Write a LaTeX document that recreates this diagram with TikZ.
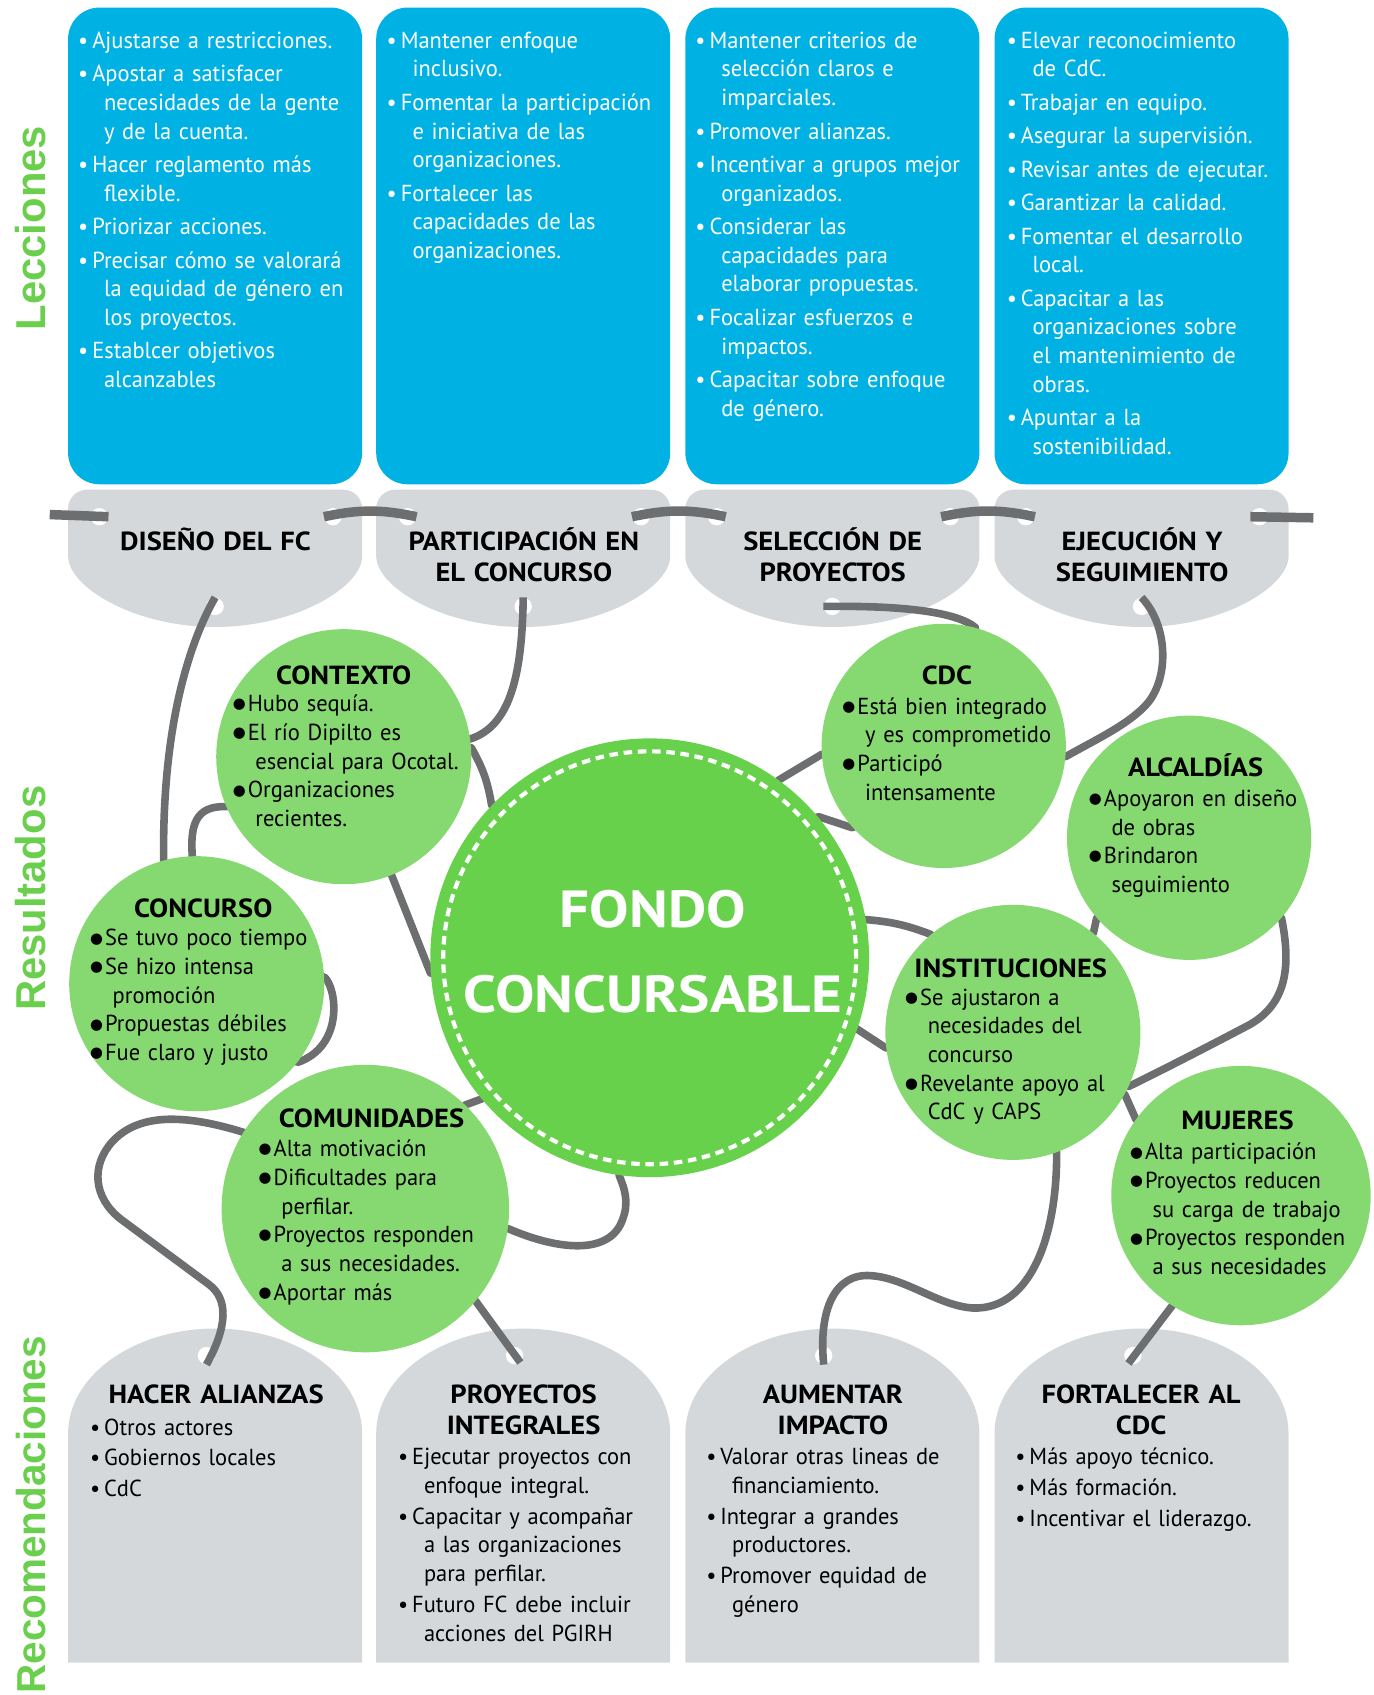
\documentclass[tikz,border=0pt]{standalone}
\usepackage{fontspec}
\setmainfont{PT Sans}[FakeStretch=0.97]
\newfontfamily\headfont{PT Sans}[FakeStretch=1.09]
\newfontfamily\fondofont{PT Sans}[FakeStretch=1.13]
\newfontfamily\sidefont{Liberation Sans}
\newfontfamily\dotfont{DejaVu Sans}
\usetikzlibrary{calc}

\definecolor{boxblue}{HTML}{00B2E3}
\definecolor{tabgray}{HTML}{D5D8DB}
\definecolor{leafgreen}{HTML}{86D870}
\definecolor{fondogreen}{HTML}{68D14B}
\definecolor{sidegreen}{HTML}{6BCF4E}
\definecolor{wiregray}{HTML}{6D6E70}

\pgfdeclarelayer{back}
\pgfdeclarelayer{wires}
\pgfsetlayers{back,wires,main}

\newcommand{\bul}{\makebox[7.4pt][l]{\textbullet}}
\newcommand{\ind}{\hspace*{13.6pt}}
\newcommand{\cbul}{\makebox[7.9pt][l]{\raisebox{1.5pt}{\dotfont\fontsize{7.8}{7.8}\selectfont ●}}}
\newcommand{\cind}{\hspace*{11.9pt}}

\begin{document}
\begin{tikzpicture}[x=0.02cm, y=-0.02cm]

  \tikzset{wire/.style={draw=wiregray, line width=4pt, line join=round}}
  \tikzset{chain/.style={wire, line width=5pt}}
  \tikzset{hole/.style={circle, fill=white, minimum size=0.32cm, inner sep=0pt}}
  \tikzset{leaf/.style={circle, fill=leafgreen, inner sep=0pt}}
  \tikzset{body/.style={anchor=base west, text width=5.2cm, align=left, inner sep=0pt, font=\fontsize{12.2}{15.1}\selectfont}}
  \tikzset{lesson/.style={body, text=white}}
  \tikzset{head/.style={anchor=base, text width=5cm, align=center, inner sep=0pt, font=\headfont\bfseries\fontsize{13.8}{16.6}\selectfont}}
  \tikzset{side/.style={rotate=90, inner sep=0pt, text=sidegreen, font=\sidefont\bfseries\fontsize{22}{26}\selectfont}}

  \useasboundingbox (0,0) rectangle (1271,1568);

  % boxes, tabs and holes
  \begin{pgfonlayer}{back}
    \foreach \x/\n in {63/1, 348/2, 634/3, 920/4} {
      \fill[boxblue, rounded corners=0.58cm] (\x,7) rectangle ++(272,441);
      \fill[tabgray, rounded corners=0.35cm] (\x+272,497)
        arc[start angle=0, end angle=180, x radius=136, y radius=83]
        -- (\x,453) -- (\x+272,453) -- cycle;
      \fill[tabgray] (\x,1538) -- (\x,1326)
        arc[start angle=180, end angle=360, x radius=136, y radius=97]
        -- (\x+272,1538) -- cycle;
      \node[hole] (t\n-l) at (\x+29,478) {};
      \node[hole] (t\n-r) at (\x+245,478) {};
      \node[hole] (t\n-b) at (\x+136,561) {};
      \node[hole] (b\n-h) at (\x+128,1254) {};
    }
  \end{pgfonlayer}
  \coordinate (chainL) at (46,476);
  \coordinate (chainR) at (1215,479);

  % results
  \node[circle, fill=fondogreen, minimum size=8.12cm, inner sep=0pt] (fondo) at (601,886) {};
  \draw[white, line width=2.2pt, dash pattern=on 4.5pt off 3pt] (fondo.center) circle[radius=3.82cm];
  \node[leaf, minimum size=4.72cm] (contexto) at (318,700) {};
  \node[leaf, minimum size=4.52cm] (cdc) at (873,690) {};
  \node[leaf, minimum size=4.52cm] (alcaldias) at (1100,775) {};
  \node[leaf, minimum size=4.72cm] (concurso) at (182,910) {};
  \node[leaf, minimum size=4.72cm] (instituciones) at (937,955) {};
  \node[leaf, minimum size=5.32cm] (comunidades) at (338,1118) {};
  \node[leaf, minimum size=4.80cm] (mujeres) at (1148,1106) {};

  % strings
  \begin{pgfonlayer}{wires}
    \draw[chain] (chainL) -- (t1-l.east);
    \draw[chain] (t1-r.west) to[bend left=12] (t2-l.east);
    \draw[chain] (t2-r.west) to[bend left=12] (t3-l.east);
    \draw[chain] (t3-r.west) to[bend left=12] (t4-l.east);
    \draw[chain] (t4-r.west) -- (chainR);

    \draw[wire] (t1-b.north) .. controls (172,600) and (150,680) .. (concurso.105) -- (concurso.center);
    \draw[wire] (t2-b.north) .. controls (483,630) and (470,672) .. (contexto.8) -- (contexto.center);
    \draw[wire] (t3-b.west) .. controls (835,560) and (885,566) .. (cdc.75) -- (cdc.center);
    \draw[wire] (t4-b.north) .. controls (1080,578) and (1082,625) .. (1062,650)
      .. controls (1045,670) and (1012,685) .. (cdc.-5) -- (cdc.center);

    \draw[wire] (contexto.center) -- (contexto.4) to[bend left=10] (fondo.136) -- (fondo.center);
    \draw[wire] (contexto.center) -- (contexto.203) .. controls (180,745) and (176,765) .. (concurso.92) -- (concurso.center);
    \draw[wire] (contexto.center) -- (contexto.-68) -- (fondo.184) -- (fondo.center);
    \draw[wire] (concurso.center) -- (concurso.3) .. controls (312,915) and (318,968) .. (concurso.-38) -- (concurso.center);
    \draw[wire] (comunidades.center) -- (comunidades.46) -- (fondo.220) -- (fondo.center);
    \draw[wire] (comunidades.center) -- (comunidades.148) .. controls (175,1032) and (130,1028) .. (104,1056)
      .. controls (84,1078) and (86,1108) .. (112,1128) -- (193,1188)
      .. controls (212,1202) and (210,1228) .. (b1-h.south);
    \draw[wire] (comunidades.center) -- (comunidades.-40) -- (b2-h.-50);
    \draw[wire] (comunidades.center) -- (comunidades.-8) .. controls (520,1158) and (565,1160) .. (576,1128)
      .. controls (582,1112) and (578,1100) .. (fondo.262) -- (fondo.center);
    \draw[wire] (cdc.center) -- (cdc.184) -- (fondo.54) -- (fondo.center);
    \draw[wire] (cdc.center) -- (cdc.222) -- (fondo.40) -- (fondo.center);
    \draw[wire] (fondo.center) -- (fondo.10) to[bend left=8] (instituciones.130) -- (instituciones.center);
    \draw[wire] (fondo.center) -- (fondo.-19) -- (instituciones.187) -- (instituciones.center);
    \draw[wire] (alcaldias.center) -- (alcaldias.221) -- (instituciones.51) -- (instituciones.center);
    \draw[wire] (alcaldias.center) -- (alcaldias.-41) .. controls (1194,892) and (1192,930) .. (1152,950)
      .. controls (1110,972) and (1075,990) .. (instituciones.-25) -- (instituciones.center);
    \draw[wire] (instituciones.center) -- (instituciones.-29) -- (mujeres.144) -- (mujeres.center);
    \draw[wire] (instituciones.center) -- (instituciones.-70) .. controls (978,1140) and (955,1212) .. (900,1210)
      .. controls (868,1208) and (838,1182) .. (805,1180)
      .. controls (772,1178) and (757,1212) .. (b3-h.south);
    \draw[wire] (mujeres.center) -- (mujeres.-122) -- (b4-h.-120);
  \end{pgfonlayer}

  % side labels
  \node[side] (lecciones) at (28.5,211) {Lecciones};
  \node[side] (resultados) at (28.5,831) {Resultados};
  \node[side, anchor=west, font=\sidefont\bfseries\fontsize{21.3}{26}\selectfont] (recomend) at (28.5,1567) {Recomendaciones};

  % lessons
  \node[lesson] (les1) at (72,44.7) {\bul Ajustarse a restricciones.\\[2.5pt]
    \bul Apostar a satisfacer\\ \ind necesidades de la gente\\ \ind y de la cuenta.\\[2.5pt]
    \bul Hacer reglamento más\\ \ind flexible.\\[2.5pt]
    \bul Priorizar acciones.\\[2.5pt]
    \bul Precisar cómo se valorará\\ \ind la equidad de género en\\ \ind los proyectos.\\[2.5pt]
    \bul Establcer objetivos\\ \ind alcanzables};
  \node[lesson] (les2) at (357.4,44.7) {\bul Mantener enfoque\\ \ind inclusivo.\\[2.5pt]
    \bul Fomentar la participación\\ \ind e iniciativa de las\\ \ind organizaciones.\\[2.5pt]
    \bul Fortalecer las\\ \ind capacidades de las\\ \ind organizaciones.};
  \node[lesson] (les3) at (643,44.7) {\bul Mantener criterios de\\ \ind selección claros e\\ \ind imparciales.\\[2.5pt]
    \bul Promover alianzas.\\[2.5pt]
    \bul Incentivar a grupos mejor\\ \ind organizados.\\[2.5pt]
    \bul Considerar las\\ \ind capacidades para\\ \ind elaborar propuestas.\\[2.5pt]
    \bul Focalizar esfuerzos e\\ \ind impactos.\\[2.5pt]
    \bul Capacitar sobre enfoque\\ \ind de género.};
  \node[lesson] (les4) at (931,44.7) {\bul Elevar reconocimiento\\ \ind de CdC.\\[2.5pt]
    \bul Trabajar en equipo.\\[2.5pt]
    \bul Asegurar la supervisión.\\[2.5pt]
    \bul Revisar antes de ejecutar.\\[2.5pt]
    \bul Garantizar la calidad.\\[2.5pt]
    \bul Fomentar el desarrollo\\ \ind local.\\[2.5pt]
    \bul Capacitar a las\\ \ind organizaciones sobre\\ \ind el mantenimiento de\\ \ind obras.\\[2.5pt]
    \bul Apuntar a la\\ \ind sostenibilidad.};

  % stages
  \node[head] (stage1) at (199.3,508.8) {DISEÑO DEL FC};
  \node[head] (stage2) at (484.6,508.8) {PARTICIPACIÓN EN\\EL CONCURSO};
  \node[head] (stage3) at (770.3,508.8) {SELECCIÓN DE\\PROYECTOS};
  \node[head] (stage4) at (1056.6,508.8) {EJECUCIÓN Y\\SEGUIMIENTO};

  % result texts
  \node[anchor=base, text width=7.6cm, align=center, inner sep=0pt, text=white,
    font=\fondofont\bfseries\fontsize{27.5}{45}\selectfont] (fondotxt) at (604,857.6) {FONDO\\CONCURSABLE};
  \node[head] (ctxhead) at (318,633) {CONTEXTO};
  \node[body] (ctxbody) at (215,658.5) {\cbul Hubo sequía.\\ \cbul El río Dipilto es\\ \cind esencial para Ocotal.\\
    \cbul Organizaciones\\ \cind recientes.};
  \node[head] (cdchead) at (876,633) {CDC};
  \node[body] (cdcbody) at (779,660.7) {\cbul Está bien integrado\\ \cind y es comprometido\\ \cbul Participó\\ \cind intensamente};
  \node[head] (alchead) at (1106,718.6) {ALCALDÍAS};
  \node[body] (alcbody) at (1007,745.9) {\cbul Apoyaron en diseño\\ \cind de obras\\ \cbul Brindaron\\ \cind seguimiento};
  \node[head] (conhead) at (188,848.4) {CONCURSO};
  \node[body] (conbody) at (83,875) {\cbul Se tuvo poco tiempo\\ \cbul Se hizo intensa\\ \cind promoción\\
    \cbul Propuestas débiles\\ \cbul Fue claro y justo};
  \node[head] (insthead) at (935,903.8) {INSTITUCIONES};
  \node[body] (instbody) at (837,929.8) {\cbul Se ajustaron a\\ \cind necesidades del\\ \cind concurso\\
    \cbul Revelante apoyo al\\ \cind CdC y CAPS};
  \node[head] (comhead) at (343.7,1042.6) {COMUNIDADES};
  \node[body] (combody) at (239,1070) {\cbul Alta motivación\\ \cbul Dificultades para\\ \cind perfilar.\\
    \cbul Proyectos responden\\ \cind a sus necesidades.\\ \cbul Aportar más};
  \node[head] (mujhead) at (1144.8,1045.3) {MUJERES};
  \node[body] (mujbody) at (1045,1073) {\cbul Alta participación\\ \cbul Proyectos reducen\\ \cind su carga de trabajo\\
    \cbul Proyectos responden\\ \cind a sus necesidades};

  % recommendations
  \node[head] (rechead1) at (199.9,1298) {HACER ALIANZAS};
  \node[head] (rechead2) at (484.4,1298) {PROYECTOS\\INTEGRALES};
  \node[head] (rechead3) at (770.5,1298) {AUMENTAR\\IMPACTO};
  \node[head] (rechead4) at (1055.6,1298) {FORTALECER AL\\CDC};
  \node[body] (rec1) at (83,1327.5) {\bul Otros actores\\[1.1pt] \bul Gobiernos locales\\[1.1pt] \bul CdC};
  \node[body] (rec2) at (368,1355) {\bul Ejecutar proyectos con\\ \ind enfoque integral.\\[1.1pt]
    \bul Capacitar y acompañar\\ \ind a las organizaciones\\ \ind para perfilar.\\[1.1pt]
    \bul Futuro FC debe incluir\\ \ind acciones del PGIRH};
  \node[body] (rec3) at (653,1355) {\bul Valorar otras lineas de\\ \ind financiamiento.\\[1.1pt]
    \bul Integrar a grandes\\ \ind productores.\\[1.1pt]
    \bul Promover equidad de\\ \ind género};
  \node[body] (rec4) at (939,1355) {\bul Más apoyo técnico.\\[1.1pt] \bul Más formación.\\[1.1pt] \bul Incentivar el liderazgo.};
\end{tikzpicture}
\end{document}
